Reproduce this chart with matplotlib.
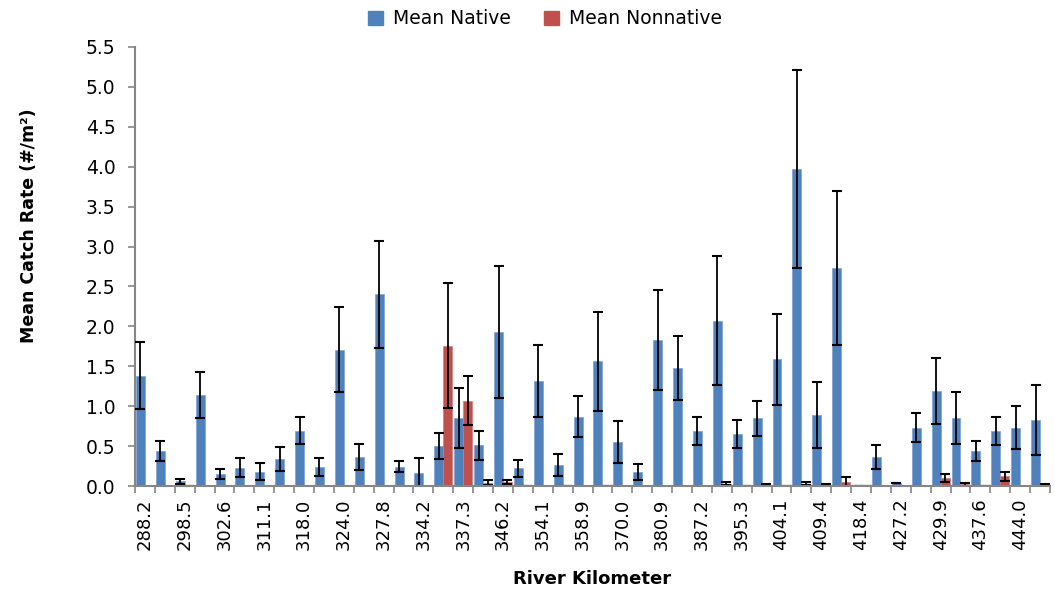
import numpy as np
import matplotlib
matplotlib.use("Agg")
import matplotlib.pyplot as plt
from matplotlib.patches import Patch

nan = float("nan")

# River kilometer labels (shown on every other category)
km_labels = ["288.2", "298.5", "302.6", "311.1", "318.0", "324.0", "327.8", "334.2",
             "337.3", "346.2", "354.1", "358.9", "370.0", "380.9", "387.2", "395.3",
             "404.1", "409.4", "418.4", "427.2", "429.9", "437.6", "444.0"]
n_categories = 46

native = [1.38, 0.44, 0.06, 1.14, 0.15, 0.23, 0.18, 0.34, 0.69, 0.24,
          1.71, 0.36, 2.40, 0.24, 0.16, 0.50, 0.85, 0.51, 1.93, 0.22,
          1.32, 0.26, 0.87, 1.56, 0.55, 0.17, 1.83, 1.48, 0.69, 2.07,
          0.65, 0.85, 1.59, 3.97, 0.89, 2.73, 0.00, 0.36, 0.04, 0.73,
          1.19, 0.85, 0.44, 0.69, 0.73, 0.83]
native_err = [0.42, 0.13, 0.03, 0.29, 0.06, 0.12, 0.11, 0.15, 0.17, 0.11,
              0.53, 0.16, 0.67, 0.07, 0.19, 0.16, 0.38, 0.18, 0.83, 0.11,
              0.45, 0.14, 0.26, 0.62, 0.26, 0.10, 0.63, 0.40, 0.18, 0.81,
              0.18, 0.22, 0.57, 1.24, 0.41, 0.96, 0.00, 0.15, 0.00, 0.18,
              0.41, 0.33, 0.13, 0.18, 0.27, 0.44]

nonnative = [0.00, 0.00, 0.00, 0.01, 0.00, 0.00, 0.00, 0.01, 0.01, 0.00,
             0.01, 0.01, 0.00, 0.01, 0.00, 1.76, 1.07, 0.04, 0.05, 0.00,
             0.01, 0.00, 0.01, 0.00, 0.00, 0.00, 0.00, 0.01, 0.00, 0.03,
             0.00, 0.01, 0.00, 0.03, 0.02, 0.05, 0.00, 0.00, 0.00, 0.01,
             0.10, 0.02, 0.00, 0.12, 0.01, 0.02]
nonnative_err = [nan, nan, 0.00, nan, nan, nan, nan, nan, nan, nan,
                 nan, nan, nan, nan, nan, 0.78, 0.31, 0.03, 0.02, 0.00,
                 nan, 0.00, nan, 0.00, nan, nan, nan, nan, nan, 0.02,
                 0.00, 0.015, 0.00, 0.015, 0.01, 0.06, 0.00, nan, nan, nan,
                 0.05, 0.02, 0.00, 0.06, nan, 0.01]

blue = "#4F81BD"
red = "#C0504D"
axis_gray = "#868686"

plt.rcParams["font.family"] = ["DejaVu Sans"]

fig = plt.figure(figsize=(10.55, 5.9), dpi=100)
ax = fig.add_axes([135 / 1055, 1 - 486 / 590, (1050 - 135) / 1055, (486 - 47) / 590])

x = np.arange(n_categories)
w = 0.45
xb = x + 0.275
xr = x + 0.725

ax.bar(xb, native, width=w, color=blue, edgecolor="#7EA1CF", linewidth=0.5, zorder=2)
ax.bar(xr, nonnative, width=w, color=red, edgecolor="#D07A78", linewidth=0.5, zorder=2)

ne = np.array(native_err, dtype=float)
nne = np.array(nonnative_err, dtype=float)
mb = ~np.isnan(ne)
mr = ~np.isnan(nne)
ax.errorbar(xb[mb], np.array(native)[mb], yerr=ne[mb], fmt="none", ecolor="black",
            elinewidth=1.3, capsize=3.4, capthick=1.5, zorder=3)
ax.errorbar(xr[mr], np.array(nonnative)[mr], yerr=nne[mr], fmt="none", ecolor="black",
            elinewidth=1.3, capsize=3.4, capthick=1.5, zorder=3)

ax.set_xlim(0, n_categories)
ax.set_ylim(0, 5.5)
ax.set_yticks(np.arange(0, 5.51, 0.5))
ax.set_yticklabels([f"{v:.1f}" for v in np.arange(0, 5.51, 0.5)], fontsize=13.5)

ax.set_xticks(np.arange(0, n_categories, 2) + 0.5)
ax.set_xticklabels(km_labels, rotation=90, fontsize=13)
ax.set_xticks(np.arange(0, n_categories + 1), minor=True)
ax.tick_params(axis="x", which="major", length=0, pad=9)
ax.tick_params(axis="x", which="minor", length=5, width=1.2, color=axis_gray, direction="out")
ax.tick_params(axis="y", length=5, width=1.2, color=axis_gray, direction="out", pad=9)

for s in ["top", "right"]:
    ax.spines[s].set_visible(False)
for s in ["left", "bottom"]:
    ax.spines[s].set_color(axis_gray)
    ax.spines[s].set_linewidth(1.5)
ax.spines["bottom"].set_zorder(4)

ax.set_ylabel("Mean Catch Rate (#/m²)", fontsize=12.5, fontweight="bold")
ax.yaxis.set_label_coords((38 - 135) / 915, (486 - 226) / 439)
ax.set_xlabel("River Kilometer", fontsize=13, fontweight="bold", labelpad=14)

handles = [Patch(facecolor=blue, edgecolor=blue), Patch(facecolor=red, edgecolor=red)]
fig.legend(handles, ["Mean Native", "Mean Nonnative"], loc="center",
           bbox_to_anchor=(545 / 1055, 1 - 19 / 590), ncol=2, frameon=False,
           fontsize=13.5, handlelength=0.8, handleheight=0.8, handletextpad=0.5,
           columnspacing=1.8)

fig.savefig("out.png", dpi=100)
